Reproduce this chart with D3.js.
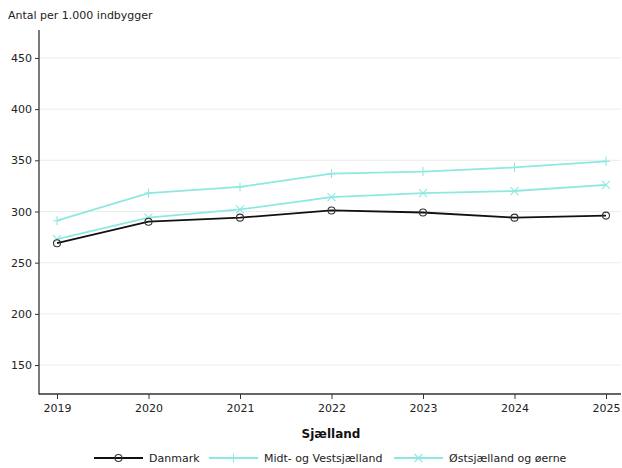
<!DOCTYPE html>
<html><head><meta charset="utf-8">
<script src="https://cdn.jsdelivr.net/npm/d3@7"></script>
<style>body{margin:0;background:#fff}svg{display:block;font-family:"DejaVu Sans",sans-serif}</style>
</head><body><svg id="c" width="622" height="468"></svg>
<script>
const years = [2019, 2020, 2021, 2022, 2023, 2024, 2025];
const danmark = [269, 290, 294, 301, 299, 294, 296];
const midtVest = [291, 318, 324, 337, 339, 343, 349];
const ostsj = [273, 294, 302, 314, 318, 320, 326];
const yTicks = [150, 200, 250, 300, 350, 400, 450];
const seriesNames = ["Danmark", "Midt- og Vestsjælland", "Østsjælland og øerne"];

const svg = d3.select("#c");
const L = 39, R = 621, T = 30, B = 394;
const x = d3.scalePoint().domain(years).range([57, 606]);
const y = d3.scaleLinear().domain([121.7, 477.3]).range([B, T]);

// grid
svg.append("g").selectAll("line").data(yTicks).join("line")
  .attr("x1", L).attr("x2", R).attr("y1", d => y(d)).attr("y2", d => y(d))
  .attr("stroke", "#ececec").attr("stroke-width", 1);

// axes
const ya = svg.append("g").attr("transform", `translate(${L},0)`)
  .call(d3.axisLeft(y).tickValues(yTicks).tickSize(4).tickPadding(3));
ya.select(".domain").remove();
ya.selectAll("text").attr("font-size", 11).attr("fill", "#222").attr("font-family", "DejaVu Sans");
ya.selectAll("line").attr("stroke", "#333");
svg.append("line").attr("x1", L).attr("x2", L).attr("y1", T).attr("y2", B + 0.5).attr("stroke", "#333").attr("stroke-width", 1.3);

const xa = svg.append("g").attr("transform", `translate(0,${B})`)
  .call(d3.axisBottom(x).tickSize(5).tickPadding(5));
xa.select(".domain").remove();
xa.selectAll("text").attr("font-size", 11).attr("fill", "#222").attr("font-family", "DejaVu Sans");
xa.selectAll("line").attr("stroke", "#333");
svg.append("line").attr("x1", L).attr("x2", R).attr("y1", B).attr("y2", B).attr("stroke", "#333").attr("stroke-width", 1.3);

svg.append("text").attr("x", 8).attr("y", 19).attr("font-size", 11).attr("fill", "#222").text("Antal per 1.000 indbygger");
svg.append("text").attr("x", 331).attr("y", 438).attr("text-anchor", "middle").attr("font-size", 12).attr("font-weight", "bold").attr("fill", "#111").text("Sjælland");

const turq = "#8ee8e2";
const series = [
  {name: seriesNames[0], vals: danmark, color: "#111", w: 1.8, m: "o"},
  {name: seriesNames[1], vals: midtVest, color: turq, w: 1.8, m: "+"},
  {name: seriesNames[2], vals: ostsj, color: turq, w: 1.8, m: "x"}
];
const line = d3.line().x((d, i) => x(years[i])).y(d => y(d));

function marker(g, m, cx, cy, color) {
  if (m === "o") g.append("circle").attr("cx", cx).attr("cy", cy).attr("r", 3.5).attr("fill", "none").attr("stroke", "#333").attr("stroke-width", 1.1);
  else if (m === "+") g.append("path").attr("d", `M${cx-4},${cy}H${cx+4}M${cx},${cy-4.5}V${cy+4.5}`).attr("stroke", color).attr("stroke-width", 1.1);
  else g.append("path").attr("d", `M${cx-4},${cy-4}L${cx+4},${cy+4}M${cx-4},${cy+4}L${cx+4},${cy-4}`).attr("stroke", color).attr("stroke-width", 1.1);
}

series.slice().reverse().forEach(s => {
  const g = svg.append("g");
  g.append("path").datum(s.vals).attr("d", line).attr("fill", "none").attr("stroke", s.color).attr("stroke-width", s.w);
  s.vals.forEach((v, i) => marker(g, s.m, x(years[i]), y(v), s.color));
});

// legend
const legX = [94, 209, 394];
series.forEach((s, i) => {
  const g = svg.append("g");
  const lx = legX[i], ly = 458;
  g.append("line").attr("x1", lx).attr("x2", lx + 49).attr("y1", ly).attr("y2", ly).attr("stroke", s.color).attr("stroke-width", s.w);
  marker(g, s.m, lx + 24.5, ly, s.color);
  g.append("text").attr("x", lx + 55).attr("y", ly + 4).attr("font-size", 11).attr("fill", "#222").text(s.name);
});
</script></body></html>
